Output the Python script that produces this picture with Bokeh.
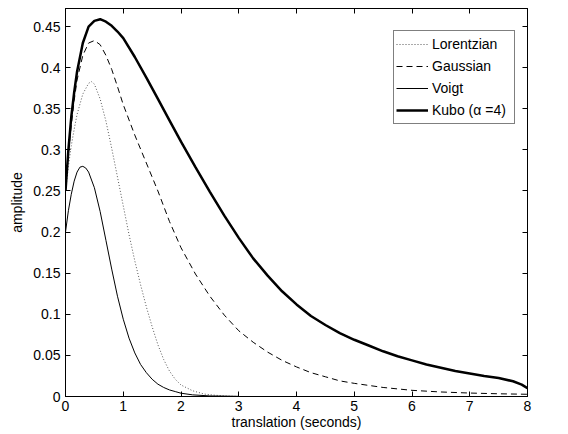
from bokeh.plotting import figure
from bokeh.models import Range1d, FixedTicker, LinearAxis, Legend, LegendItem, CustomLabelingPolicy
from bokeh.embed import file_html
from bokeh.resources import INLINE

# ---- data ----
lor_x = [0, 0.05, 0.1, 0.15, 0.2, 0.3, 0.4, 0.45, 0.5, 0.6, 0.7, 0.8, 0.9, 1.0, 1.1, 1.2, 1.3, 1.4, 1.5, 1.6, 1.7, 1.8, 1.9, 2.0, 2.2, 2.4, 2.6, 2.8, 3.0]
lor_y = [0.25, 0.28, 0.305, 0.325, 0.343, 0.368, 0.381, 0.383, 0.38, 0.362, 0.335, 0.302, 0.267, 0.232, 0.197, 0.165, 0.136, 0.109, 0.085, 0.063, 0.045, 0.031, 0.021, 0.014, 0.007, 0.003, 0.0015, 0.0005, 0.0]

gau_x = [0, 0.05, 0.1, 0.15, 0.2, 0.3, 0.4, 0.5, 0.6, 0.7, 0.8, 0.9, 1.0, 1.2, 1.4, 1.6, 1.8, 2.0, 2.25, 2.5, 2.75, 3.0, 3.25, 3.5, 3.75, 4.0, 4.25, 4.5, 4.75, 5.0, 5.5, 6.0, 6.5, 7.0, 7.5, 8.0]
gau_y = [0.25, 0.295, 0.33, 0.36, 0.385, 0.415, 0.43, 0.433, 0.428, 0.415, 0.398, 0.377, 0.355, 0.318, 0.284, 0.25, 0.213, 0.181, 0.149, 0.122, 0.099, 0.08, 0.066, 0.054, 0.044, 0.036, 0.029, 0.024, 0.019, 0.016, 0.011, 0.0075, 0.0055, 0.0042, 0.0033, 0.0027]

voi_x = [0, 0.05, 0.1, 0.15, 0.2, 0.25, 0.3, 0.35, 0.4, 0.5, 0.6, 0.7, 0.8, 0.9, 1.0, 1.1, 1.2, 1.3, 1.4, 1.5, 1.6, 1.7, 1.8, 1.9, 2.0, 2.2, 2.5, 3.0]
voi_y = [0.2, 0.226, 0.246, 0.262, 0.273, 0.279, 0.28, 0.278, 0.273, 0.254, 0.225, 0.19, 0.155, 0.122, 0.094, 0.071, 0.053, 0.039, 0.029, 0.021, 0.015, 0.011, 0.008, 0.006, 0.004, 0.002, 0.0007, 0.0002]

kub_x = [0, 0.05, 0.1, 0.15, 0.2, 0.3, 0.4, 0.5, 0.6, 0.7, 0.8, 0.9, 1.0, 1.2, 1.4, 1.6, 1.8, 2.0, 2.25, 2.5, 2.75, 3.0, 3.25, 3.5, 3.75, 4.0, 4.25, 4.5, 4.75, 5.0, 5.25, 5.5, 5.75, 6.0, 6.25, 6.5, 6.75, 7.0, 7.25, 7.5, 7.75, 7.9, 8.0]
kub_y = [0.25, 0.3, 0.34, 0.37, 0.395, 0.43, 0.45, 0.457, 0.459, 0.456, 0.451, 0.444, 0.436, 0.413, 0.388, 0.362, 0.336, 0.31, 0.279, 0.249, 0.22, 0.193, 0.168, 0.147, 0.128, 0.112, 0.098, 0.087, 0.077, 0.069, 0.062, 0.055, 0.049, 0.044, 0.039, 0.035, 0.031, 0.028, 0.025, 0.0225, 0.0185, 0.0145, 0.010]

x_ticks = [0, 1, 2, 3, 4, 5, 6, 7, 8]
y_ticks = [0, 0.05, 0.1, 0.15, 0.2, 0.25, 0.3, 0.35, 0.4, 0.45]
y_tick_labels = ["0", "0.05", "0.1", "0.15", "0.2", "0.25", "0.3", "0.35", "0.4", "0.45"]

labels = ["Lorentzian", "Gaussian", "Voigt", "Kubo (\u03b1 =4)"]

FONT = "Liberation Sans"

p = figure(width=568, height=434, output_backend="svg", toolbar_location=None,
           x_range=Range1d(0, 8), y_range=Range1d(0, 0.472),
           min_border_left=65, min_border_right=41, min_border_top=8, min_border_bottom=38)
p.background_fill_color = "white"
p.border_fill_color = "white"
p.outline_line_color = "black"
p.outline_line_width = 1
p.xgrid.visible = False
p.ygrid.visible = False

r_lor = p.line(lor_x, lor_y, line_color="#555555", line_width=1, line_dash="1 2")
r_gau = p.line(gau_x, gau_y, line_color="black", line_width=1, line_dash="6 4")
r_voi = p.line(voi_x, voi_y, line_color="black", line_width=1)
r_kub = p.line(kub_x, kub_y, line_color="black", line_width=2.5)

def style(ax, show_labels):
    ax.major_tick_in = 5
    ax.major_tick_out = 0
    ax.minor_tick_in = 0
    ax.minor_tick_out = 0
    ax.axis_line_color = "black"
    ax.major_tick_line_color = "black"
    ax.major_label_text_font = FONT
    ax.major_label_text_color = "black"
    ax.axis_label_text_font = FONT
    ax.axis_label_text_font_style = "normal"
    ax.axis_label_text_color = "black"
    if show_labels:
        ax.major_label_text_font_size = "14px"
        ax.axis_label_text_font_size = "14px"
    else:
        ax.major_label_text_font_size = "1px"
        ax.major_label_standoff = 0
        ax.major_label_policy = CustomLabelingPolicy(
            code="for (const i of indices) { indices.unset(i) } return indices")

xa = p.xaxis[0]
xa.ticker = FixedTicker(ticks=x_ticks)
xa.axis_label = "translation (seconds)"
style(xa, True)
xa.major_label_standoff = 4
xa.axis_label_standoff = 0

ya = p.yaxis[0]
ya.ticker = FixedTicker(ticks=y_ticks)
ya.major_label_overrides = {t: s for t, s in zip(y_ticks, y_tick_labels)}
ya.axis_label = "amplitude"
style(ya, True)
ya.major_label_standoff = 5
ya.axis_label_standoff = 5

top = LinearAxis(ticker=FixedTicker(ticks=x_ticks))
style(top, False)
p.add_layout(top, "above")
right = LinearAxis(ticker=FixedTicker(ticks=y_ticks))
style(right, False)
p.add_layout(right, "right")

legend = Legend(items=[LegendItem(label=labels[0], renderers=[r_lor]),
                       LegendItem(label=labels[1], renderers=[r_gau]),
                       LegendItem(label=labels[2], renderers=[r_voi]),
                       LegendItem(label=labels[3], renderers=[r_kub])],
                location=(328, 272))
legend.label_text_font = FONT
legend.label_text_font_size = "14px"
legend.label_text_color = "black"
legend.glyph_width = 32
legend.glyph_height = 22
legend.label_height = 22
legend.label_width = 80
legend.spacing = 0
legend.padding = 2
legend.margin = 0
legend.label_standoff = 4
legend.border_line_color = "black"
legend.border_line_width = 1
legend.background_fill_color = "white"
legend.background_fill_alpha = 1
p.add_layout(legend, "center")

open("out.html", "w").write(file_html(p, INLINE))
